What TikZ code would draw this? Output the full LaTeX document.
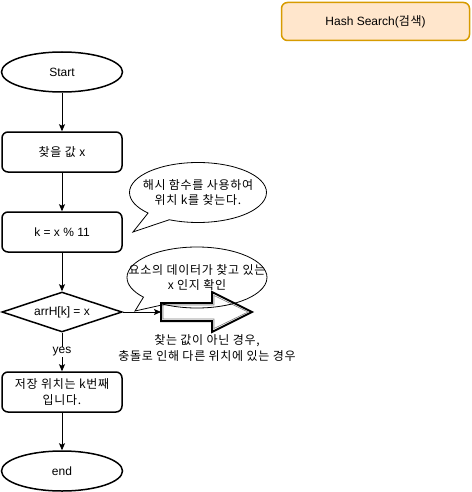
\documentclass[tikz,border=0pt]{standalone}
\usepackage{fontspec}
\setmainfont{Liberation Sans}
\newfontfamily\kr[LetterSpace=6]{Noto Sans CJK KR}
\usetikzlibrary{shapes.geometric}
\usetikzlibrary{shapes.callouts}
\usetikzlibrary{arrows.meta}

\begin{document}
\begin{tikzpicture}[x=1pt,y=-1pt,
  every node/.style={font=\fontsize{12}{15}\selectfont},
  term/.style={ellipse,draw,line width=1.5pt,minimum width=121pt,minimum height=40pt,inner sep=0pt},
  proc/.style={rectangle,rounded corners=6pt,draw,line width=1.5pt,minimum width=120pt,minimum height=40pt,inner sep=0pt,align=center},
  cond/.style={diamond,aspect=3,draw,line width=1.5pt,minimum width=120pt,minimum height=40pt,inner sep=0pt},
  bubble/.style={ellipse callout,draw,line width=0.8pt,callout pointer arc=22},
  krtext/.style={font=\kr\fontsize{12}{15.5}\selectfont,align=center},
  flow/.style={line width=0.8pt,-{Stealth[length=7pt,width=6pt,inset=1.5pt]}}
]
\useasboundingbox (0,0) rectangle (471,492);

% title
\node[rectangle,rounded corners=6pt,draw={rgb,255:red,215;green,155;blue,0},line width=1.5pt,
      fill={rgb,255:red,255;green,230;blue,204},minimum width=188pt,minimum height=38pt] (title)
      at (375.5,21.5) {Hash Search({\kr 검색})};

% flow
\node[term] (start) at (62,72) {Start};
\node[proc,krtext] (find) at (62,152) {찾을 값 x};
\node[proc] (hash) at (62,232) {k = x \% 11};
\node[cond] (check) at (62,312) {arrH[k] = x};
\node[proc,krtext] (found) at (62,392) {저장 위치는 k번째\\입니다.};
\node[term] (end) at (62,471) {end};

\draw[flow] (start) -- (find);
\draw[flow] (find) -- (hash);
\draw[flow] (hash) -- (check);
\draw[flow] (check) -- node[fill=white,inner sep=1pt] {yes} (found);
\draw[flow] (found) -- (end);

% big arrow
\coordinate (tail) at (161,312);
\draw[line width=2pt,line join=miter] (161,303) -- (212,303) -- (212,292) -- (252,312)
  -- (212,332) -- (212,321) -- (161,321) -- cycle;
\draw[line width=0.6pt,gray] (163,305) -- (214,305) -- (214,295.5) -- (248,312)
  -- (214,328.5) -- (214,319) -- (163,319) -- cycle;
\draw[flow] (check) -- (tail);

% comments
\node[bubble,minimum width=137pt,minimum height=60pt,callout absolute pointer={(133,232)}] (note1) at (198,192.5) {};
\node[krtext] (note1txt) at (note1.center) {해시 함수를 사용하여\\위치 k를 찾는다.};
\node[bubble,minimum width=140pt,minimum height=61pt,callout absolute pointer={(135,311)}] (note2) at (197,277.5) {};
\node[krtext] (note2txt) at (note2.center) {요소의 데이터가 찾고 있는\\x 인지 확인};
\node[krtext] (miss) at (207,348) {찾는 값이 아닌 경우,\\충돌로 인해 다른 위치에 있는 경우};
\end{tikzpicture}
\end{document}
